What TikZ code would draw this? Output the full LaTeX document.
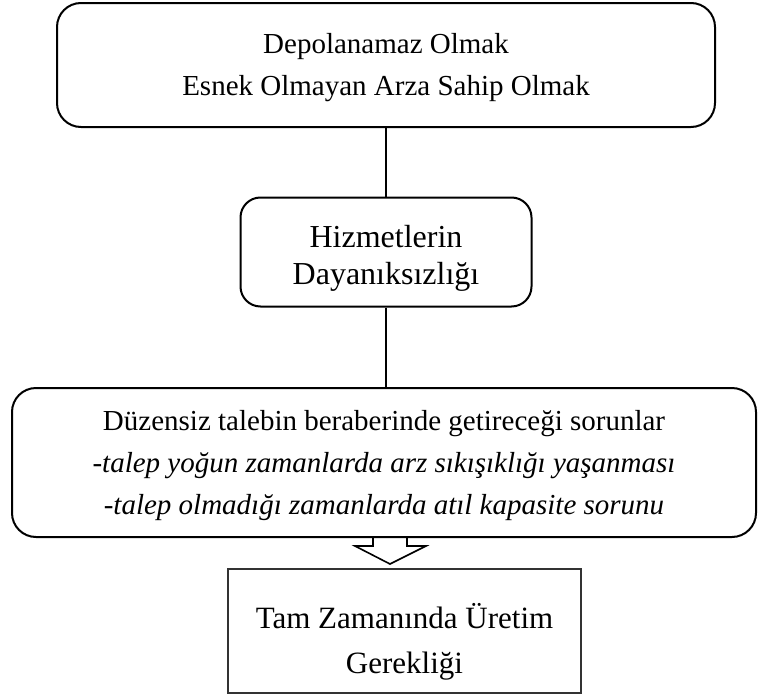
\documentclass[tikz,border=0pt]{standalone}
\usepackage{fontspec}
\setmainfont{Liberation Serif}
\usetikzlibrary{positioning}

\tikzset{
  roundbox/.style={draw, line width=2pt, rounded corners=24pt, align=center,
    inner sep=0pt, font=\fontsize{29}{42}\selectfont},
  plainbox/.style={draw, line width=1.2pt, black!80, text=black, align=center,
    inner sep=0pt, font=\fontsize{31}{45}\selectfont},
  link/.style={line width=2pt}
}

\begin{document}
\begin{tikzpicture}[x=1pt,y=-1pt]
\useasboundingbox (0,0) rectangle (758,696);

% Boxes
\node[roundbox, minimum width=658pt, minimum height=124pt] (store) at (386,65)
  {\rule{0pt}{26pt}Depolanamaz Olmak\\Esnek Olmayan Arza Sahip Olmak};
\node[roundbox, rounded corners=20pt, minimum width=291pt, minimum height=109pt,
  font=\fontsize{32}{37}\selectfont] (perish) at (386,252)
  {\rule{0pt}{34pt}Hizmetlerin\\Dayanıksızlığı};
\node[roundbox, minimum width=744pt, minimum height=149pt] (demand) at (384,462.5)
  {\rule{0pt}{26pt}Düzensiz talebin beraberinde getireceği sorunlar\\
   \textit{-talep yoğun zamanlarda arz sıkışıklığı yaşanması}\\
   \textit{-talep olmadığı zamanlarda atıl kapasite sorunu}};
\node[plainbox, minimum width=353pt, minimum height=124pt] (jit) at (404.5,631)
  {\rule{0pt}{47pt}Tam Zamanında Üretim\\Gerekliği};

% Connectors
\draw[link] (store.south -| 386,0) -- (perish.north);
\draw[link] (perish.south) -- (demand.north -| 386,0);

% Hollow arrow
\coordinate (tip) at (390,564);
\draw[line width=1.6pt, line join=miter]
  (373,537) -- (373,546) -- (355,546) -- (tip) -- (426,546) -- (407,546) -- (407,537);
\end{tikzpicture}
\end{document}
